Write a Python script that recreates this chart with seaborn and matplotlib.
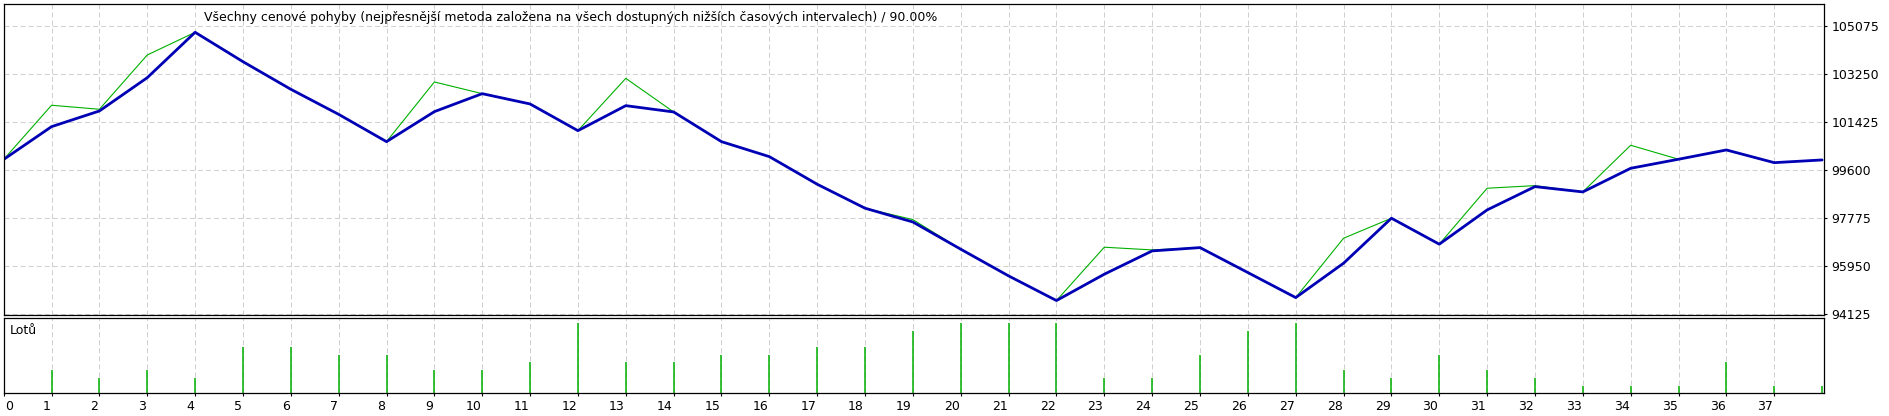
import numpy as np
import pandas as pd
import matplotlib
matplotlib.use('Agg')
import matplotlib.pyplot as plt
import matplotlib.transforms as mtransforms
import seaborn as sns

# trade number (x axis)
trades = list(range(39))

# balance (blue) and equity (green)
balance = [100000, 101247, 101843, 103109, 104835, 103718, 102668, 101714, 100676, 101817,
           102501, 102109, 101094, 102045, 101805, 100676, 100106, 99056, 98144, 97620,
           96585, 95570, 94632, 95634, 96520, 96646, 95697, 94745, 96052, 97764,
           96776, 98079, 98965, 98764, 99663, 100007, 100360, 99877, 99980]
equity = [100000, 102060, 101908, 103972, 104835, 103718, 102668, 101714, 100676, 102946,
          102501, 102109, 101094, 103084, 101805, 100676, 100106, 99056, 98144, 97710,
          96585, 95570, 94632, 96661, 96558, 96646, 95697, 94745, 97003, 97764,
          96776, 98904, 99003, 98764, 100539, 100007, 100360, 99877, 99980]
# lots per trade
lots = [0.0, 0.3, 0.2, 0.3, 0.2, 0.6, 0.6, 0.5, 0.5, 0.3,
        0.3, 0.4, 0.9, 0.4, 0.4, 0.5, 0.5, 0.6, 0.6, 0.8,
        0.9, 0.9, 0.9, 0.2, 0.2, 0.5, 0.8, 0.9, 0.3, 0.2,
        0.5, 0.3, 0.2, 0.1, 0.1, 0.1, 0.4, 0.1, 0.1]

y_ticks = [94125, 95950, 97775, 99600, 101425, 103250, 105075]
x_ticks = list(range(38))
title = 'Všechny cenové pohyby (nejpřesnější metoda založena na všech dostupných nižších časových intervalech) / 90.00%'

df = pd.DataFrame({'trade': trades, 'balance': balance, 'equity': equity, 'lots': lots})

sns.set_theme(style='white')
plt.rcParams['font.family'] = ['DejaVu Sans']
plt.rcParams['lines.scale_dashes'] = False

W, H = 1889, 416
fig = plt.figure(figsize=(W / 100, H / 100), dpi=100)
fig.patch.set_facecolor('white')

def frac(left, top, right, bottom):
    return [left / W, (H - bottom) / H, (right - left) / W, (bottom - top) / H]

ax = fig.add_axes(frac(3.7, 4.3, 1824, 315.2))
ax2 = fig.add_axes(frac(3.7, 317.8, 1824, 393))

grid_kw = dict(color='#d0d0d0', linestyle=(0, (3.6, 2.2)), linewidth=0.75)

# main panel
sns.lineplot(data=df, x='trade', y='equity', color='#00b000', linewidth=0.8, ax=ax)
sns.lineplot(data=df, x='trade', y='balance', color='#0000b4', linewidth=2.0, ax=ax)
ax.set_xlim(0, 38.04)
ax.set_ylim(94075, 105900)
ax.set_yticks(y_ticks)
ax.set_yticklabels([str(v) for v in y_ticks])
ax.yaxis.tick_right()
ax.set_xticks(x_ticks)
ax.set_xticklabels([])
ax.tick_params(axis='x', length=0)
ax.tick_params(axis='y', right=True, length=2.5, width=0.8, pad=3, labelsize=9, colors='black')
ax.grid(True, **grid_kw)
ax.set_xlabel('')
ax.set_ylabel('')
for s in ax.spines.values():
    s.set_color('black')
    s.set_linewidth(0.9)
ax.text(0.110, 0.959, title, transform=ax.transAxes, ha='left', va='center', fontsize=9, color='black')

# lots panel
ax2.vlines(df['trade'], 0, df['lots'], color='#00b000', linewidth=1.1)
ax2.set_xlim(0, 38.04)
ax2.set_ylim(0.016, 0.962)
ax2.set_yticks([])
ax2.set_xticks(x_ticks)
ax2.set_xticklabels([str(v) for v in x_ticks])
ax2.tick_params(axis='x', bottom=True, length=2, width=0.8, pad=3, labelsize=9, colors='black')
ax2.xaxis.grid(True, **grid_kw)
ax2.yaxis.grid(False)
for s in ax2.spines.values():
    s.set_color('black')
    s.set_linewidth(0.9)
ax2.text(0.0035, 0.83, 'Lotů', transform=ax2.transAxes, ha='left', va='center', fontsize=9, color='black')

# MT style tick labels sit left of their tick
for i, lab in enumerate(ax2.get_xticklabels()):
    if i == 0:
        lab.set_ha('left')
        lab.set_transform(lab.get_transform() + mtransforms.ScaledTranslation(1 / 100, 0, fig.dpi_scale_trans))
    else:
        lab.set_ha('right')
        lab.set_transform(lab.get_transform() + mtransforms.ScaledTranslation(-1 / 100, 0, fig.dpi_scale_trans))

fig.savefig('out.png', dpi=100)
